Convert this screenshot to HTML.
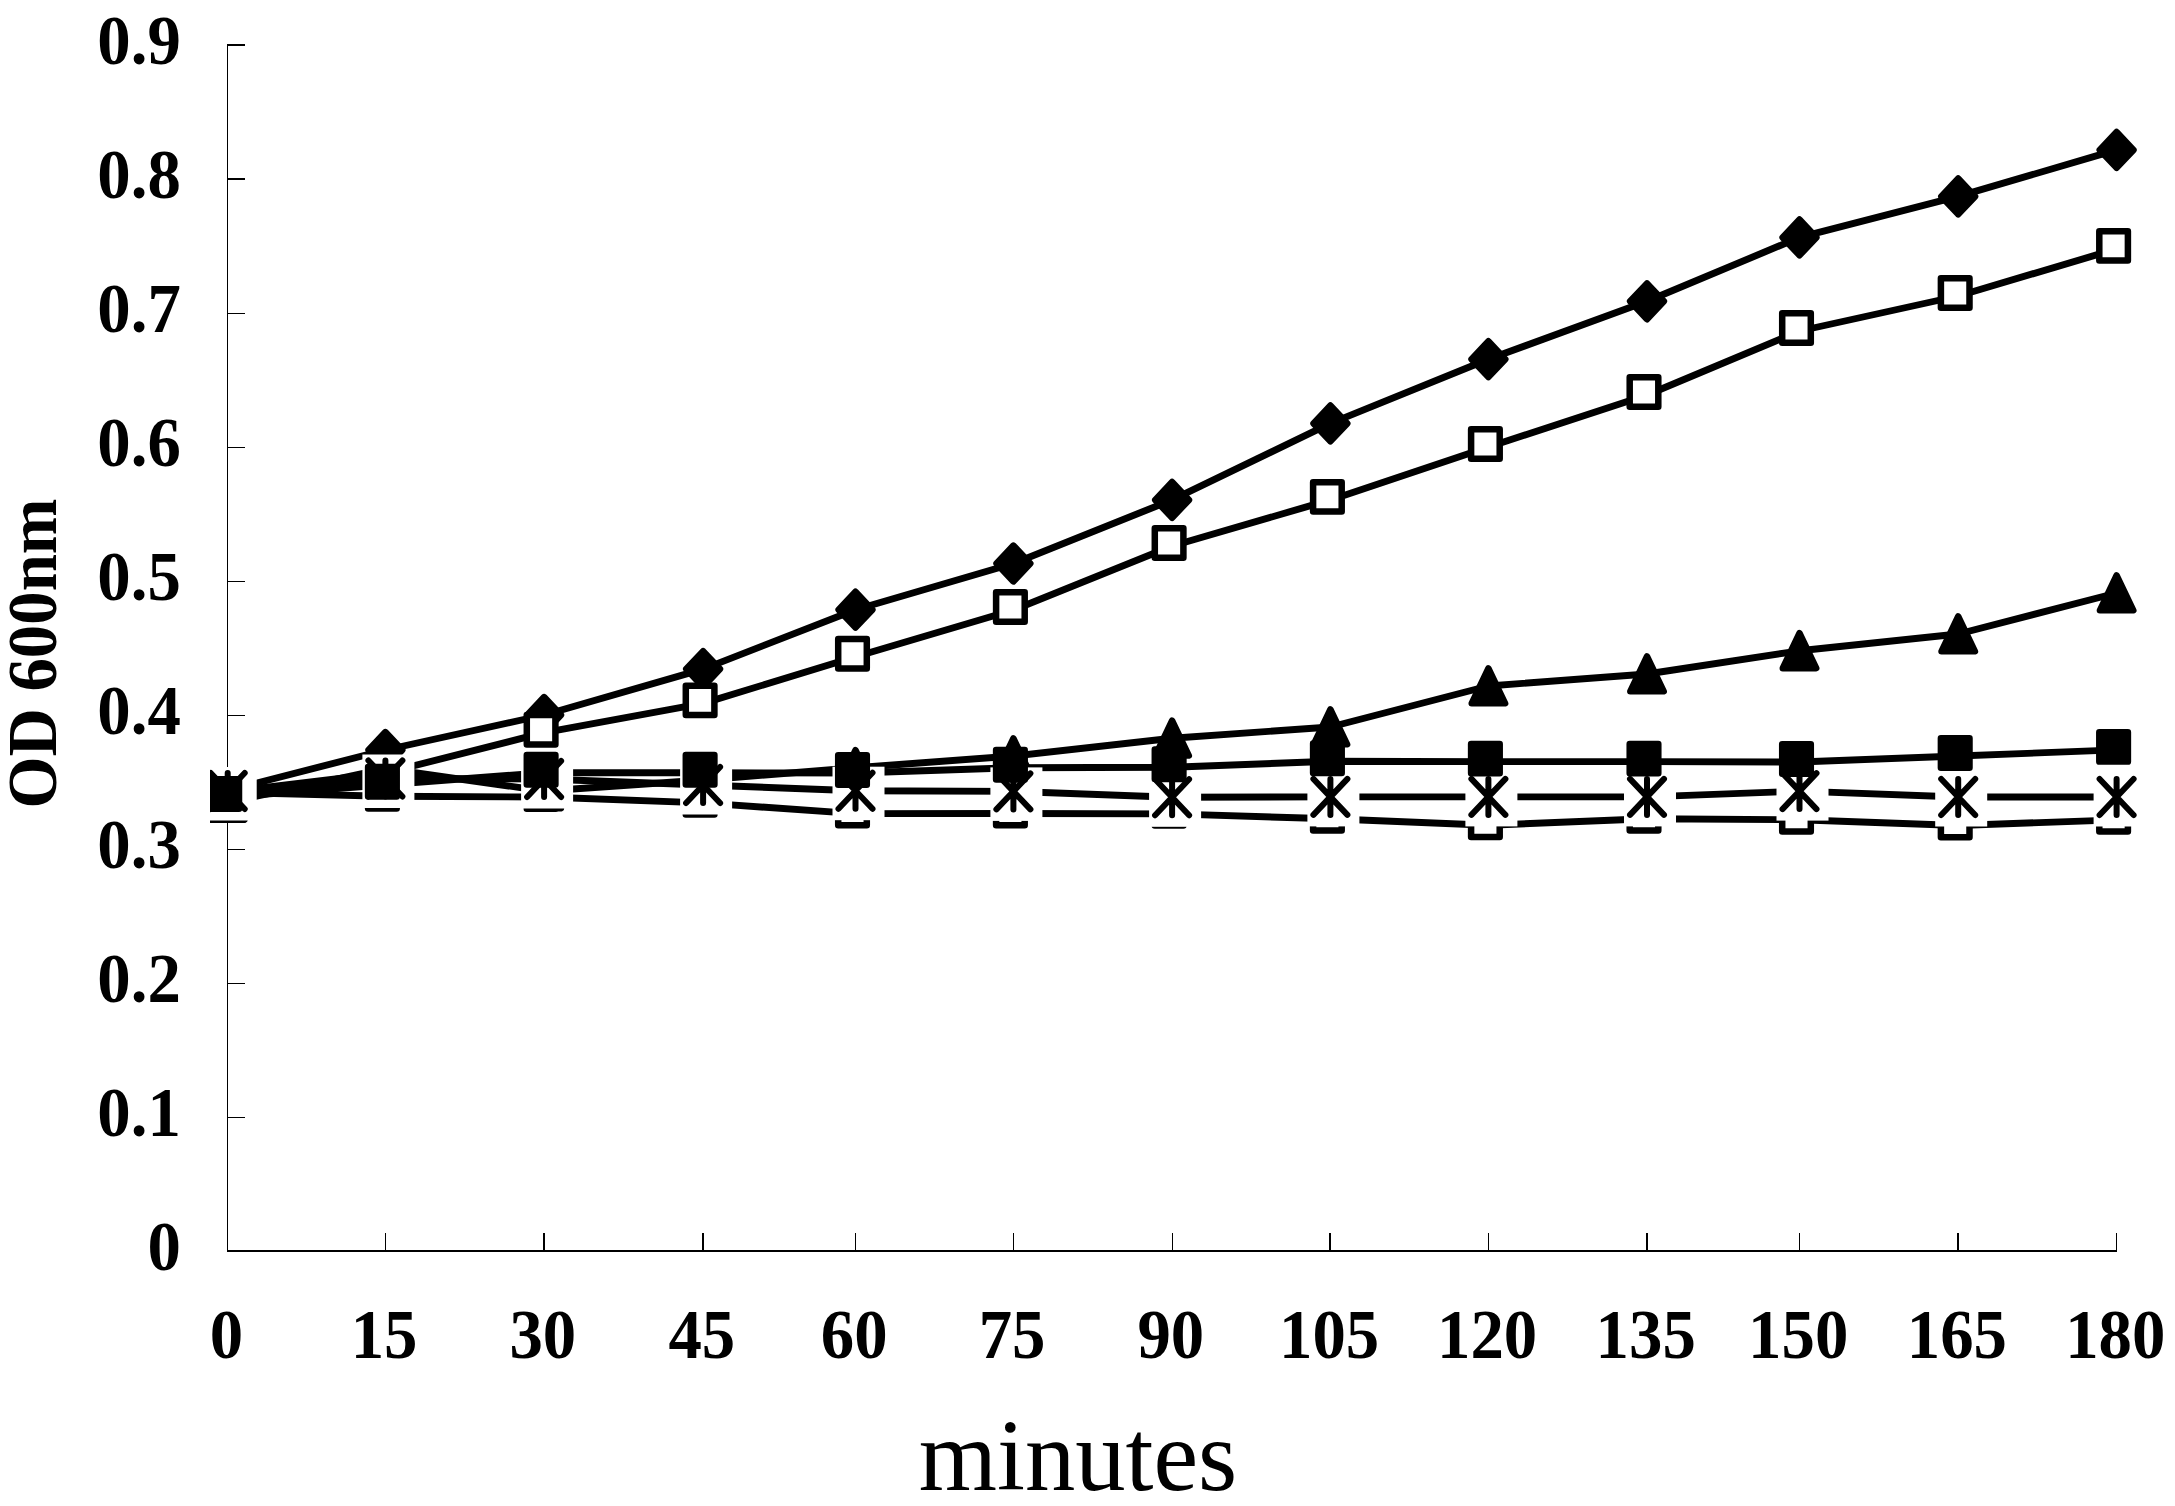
<!DOCTYPE html>
<html lang="en"><head><meta charset="utf-8"><title>OD 600nm growth curves</title>
<style>
html,body{margin:0;padding:0;background:#fff;}
body{width:2175px;height:1506px;overflow:hidden;}
svg{display:block;}
.b{font-family:"Liberation Serif",serif;font-weight:700;font-size:66.8px;fill:#000;}
.m{font-family:"Liberation Serif",serif;font-weight:400;font-size:100.6px;fill:#000;}
.ln{fill:none;stroke:#000;stroke-width:6.9;stroke-linejoin:round;stroke-linecap:butt;}
.mk{stroke:#000;stroke-width:6.5;stroke-linejoin:round;}
.as{fill:none;stroke:#000;stroke-width:6;stroke-linecap:round;}
</style></head><body>
<svg width="2175" height="1506" viewBox="0 0 2175 1506">
<rect x="0" y="0" width="2175" height="1506" fill="#fff"/>
<defs><clipPath id="pc"><rect x="210" y="0" width="1965" height="1506"/></clipPath></defs>
<g shape-rendering="crispEdges" fill="#000">
<rect x="227" y="44" width="1.3" height="1208"/>
<rect x="227" y="1250" width="1890.3" height="2"/>
<rect x="227" y="1116.7" width="18.3" height="1.2"/>
<rect x="227" y="982.7" width="18.3" height="1.2"/>
<rect x="227" y="848.7" width="18.3" height="1.2"/>
<rect x="227" y="714.7" width="18.3" height="1.2"/>
<rect x="227" y="580.7" width="18.3" height="1.2"/>
<rect x="227" y="446.7" width="18.3" height="1.2"/>
<rect x="227" y="312.7" width="18.3" height="1.2"/>
<rect x="227" y="178.3" width="18.3" height="2"/>
<rect x="227" y="44.3" width="18.3" height="2"/>
<rect x="384.8" y="1233" width="1.2" height="18"/>
<rect x="543.1" y="1233" width="2" height="18"/>
<rect x="702.1" y="1233" width="2" height="18"/>
<rect x="854.9" y="1233" width="1.2" height="18"/>
<rect x="1012.8" y="1233" width="1.2" height="18"/>
<rect x="1171.5" y="1233" width="1.2" height="18"/>
<rect x="1329.4" y="1233" width="2" height="18"/>
<rect x="1487.8" y="1233" width="1.2" height="18"/>
<rect x="1646" y="1233" width="2" height="18"/>
<rect x="1798.9" y="1233" width="1.2" height="18"/>
<rect x="1957.2" y="1233" width="2" height="18"/>
<rect x="2116" y="1233" width="1.2" height="18"/>
</g>
<text class="b" text-anchor="end" transform="translate(180.8 1269.5) scale(1 1.03)">0</text>
<text class="b" text-anchor="end" transform="translate(180.8 1135.5) scale(1 1.03)">0.1</text>
<text class="b" text-anchor="end" transform="translate(180.8 1001.5) scale(1 1.03)">0.2</text>
<text class="b" text-anchor="end" transform="translate(180.8 867.5) scale(1 1.03)">0.3</text>
<text class="b" text-anchor="end" transform="translate(180.8 733.5) scale(1 1.03)">0.4</text>
<text class="b" text-anchor="end" transform="translate(180.8 599.5) scale(1 1.03)">0.5</text>
<text class="b" text-anchor="end" transform="translate(180.8 465.5) scale(1 1.03)">0.6</text>
<text class="b" text-anchor="end" transform="translate(180.8 331.5) scale(1 1.03)">0.7</text>
<text class="b" text-anchor="end" transform="translate(180.8 197.5) scale(1 1.03)">0.8</text>
<text class="b" text-anchor="end" transform="translate(180.8 63.5) scale(1 1.03)">0.9</text>
<text class="b" text-anchor="middle" transform="translate(226.4 1357.8) scale(1 1.03)">0</text>
<text class="b" text-anchor="middle" transform="translate(384.1 1357.8) scale(1 1.03)">15</text>
<text class="b" text-anchor="middle" transform="translate(542.8 1357.8) scale(1 1.03)">30</text>
<text class="b" text-anchor="middle" transform="translate(701.8 1357.8) scale(1 1.03)">45</text>
<text class="b" text-anchor="middle" transform="translate(854.2 1357.8) scale(1 1.03)">60</text>
<text class="b" text-anchor="middle" transform="translate(1012.1 1357.8) scale(1 1.03)">75</text>
<text class="b" text-anchor="middle" transform="translate(1170.8 1357.8) scale(1 1.03)">90</text>
<text class="b" text-anchor="middle" transform="translate(1329.1 1357.8) scale(1 1.03)">105</text>
<text class="b" text-anchor="middle" transform="translate(1487.1 1357.8) scale(1 1.03)">120</text>
<text class="b" text-anchor="middle" transform="translate(1645.7 1357.8) scale(1 1.03)">135</text>
<text class="b" text-anchor="middle" transform="translate(1798.2 1357.8) scale(1 1.03)">150</text>
<text class="b" text-anchor="middle" transform="translate(1956.9 1357.8) scale(1 1.03)">165</text>
<text class="b" text-anchor="middle" transform="translate(2115.3 1357.8) scale(1 1.03)">180</text>
<text class="b" text-anchor="middle" transform="translate(55.6 653.5) rotate(-90) scale(1 1.03)">OD 600nm</text>
<text class="m" text-anchor="middle" transform="translate(1078 1490.3) scale(1 1.02)">minutes</text>
<g class="ln">
<polyline points="227.7,790.5 385.4,750 544.1,715 703.1,669.1 855.5,609.7 1013.4,563.5 1172.1,499.9 1330.4,423.4 1488.4,359.2 1647,301.3 1799.5,237.4 1958.2,196.4 2116.6,149.9"/>
<polyline points="227.7,792 385.4,773 544.1,732.7 703.1,703.4 855.5,656.7 1013.4,610 1172.1,546 1330.4,499.9 1488.4,447 1647,395 1799.5,331 1958.2,296 2116.6,248.9"/>
<polyline points="227.7,802.4 385.4,768.5 544.1,791 703.1,780 855.5,767.7 1013.4,756 1172.1,738.2 1330.4,727 1488.4,686 1647,674 1799.5,650.8 1958.2,634 2116.6,593"/>
<polyline points="227.7,797 385.4,784.8 544.1,772.7 703.1,772.8 855.5,773 1013.4,767.8 1172.1,767.2 1330.4,761.3 1488.4,761.6 1647,761.6 1799.5,762 1958.2,756 2116.6,749.9"/>
<polyline points="227.7,791 385.4,778.5 544.1,779 703.1,785 855.5,790.7 1013.4,791.4 1172.1,797.3 1330.4,796.9 1488.4,796.9 1647,796.9 1799.5,791.1 1958.2,797 2116.6,797"/>
<polyline points="227.7,792.5 385.4,796.3 544.1,797 703.1,802.9 855.5,813.6 1013.4,813.5 1172.1,813.9 1330.4,818.8 1488.4,825.2 1647,818.8 1799.5,819.8 1958.2,825.5 2116.6,819.9"/>
</g>
<g clip-path="url(#pc)">
<polygon class="mk" fill="#000" points="227.7,772.6 244.6,790.5 227.7,808.4 210.8,790.5"/>
<polygon class="mk" fill="#000" points="385.4,732.1 402.3,750 385.4,767.9 368.5,750"/>
<polygon class="mk" fill="#000" points="544.1,697.1 561,715 544.1,732.9 527.2,715"/>
<polygon class="mk" fill="#000" points="703.1,651.2 720,669.1 703.1,687 686.2,669.1"/>
<polygon class="mk" fill="#000" points="855.5,591.8 872.4,609.7 855.5,627.6 838.6,609.7"/>
<polygon class="mk" fill="#000" points="1013.4,545.6 1030.3,563.5 1013.4,581.4 996.5,563.5"/>
<polygon class="mk" fill="#000" points="1172.1,482 1189,499.9 1172.1,517.8 1155.2,499.9"/>
<polygon class="mk" fill="#000" points="1330.4,405.5 1347.3,423.4 1330.4,441.3 1313.5,423.4"/>
<polygon class="mk" fill="#000" points="1488.4,341.3 1505.3,359.2 1488.4,377.1 1471.5,359.2"/>
<polygon class="mk" fill="#000" points="1647,283.4 1663.9,301.3 1647,319.2 1630.1,301.3"/>
<polygon class="mk" fill="#000" points="1799.5,219.5 1816.4,237.4 1799.5,255.3 1782.6,237.4"/>
<polygon class="mk" fill="#000" points="1958.2,178.5 1975.1,196.4 1958.2,214.3 1941.3,196.4"/>
<polygon class="mk" fill="#000" points="2116.6,132 2133.5,149.9 2116.6,167.8 2099.7,149.9"/>
<rect class="mk" stroke-width="6.8" fill="#fff" x="210.4" y="774.3" width="28.6" height="29.4"/>
<rect class="mk" stroke-width="6.8" fill="#fff" x="368.1" y="755.3" width="28.6" height="29.4"/>
<rect class="mk" stroke-width="6.8" fill="#fff" x="526.8" y="715" width="28.6" height="29.4"/>
<rect class="mk" stroke-width="6.8" fill="#fff" x="685.8" y="685.7" width="28.6" height="29.4"/>
<rect class="mk" stroke-width="6.8" fill="#fff" x="838.2" y="639" width="28.6" height="29.4"/>
<rect class="mk" stroke-width="6.8" fill="#fff" x="996.1" y="592.3" width="28.6" height="29.4"/>
<rect class="mk" stroke-width="6.8" fill="#fff" x="1154.8" y="528.3" width="28.6" height="29.4"/>
<rect class="mk" stroke-width="6.8" fill="#fff" x="1313.1" y="482.2" width="28.6" height="29.4"/>
<rect class="mk" stroke-width="6.8" fill="#fff" x="1471.1" y="429.3" width="28.6" height="29.4"/>
<rect class="mk" stroke-width="6.8" fill="#fff" x="1629.7" y="377.3" width="28.6" height="29.4"/>
<rect class="mk" stroke-width="6.8" fill="#fff" x="1782.2" y="313.3" width="28.6" height="29.4"/>
<rect class="mk" stroke-width="6.8" fill="#fff" x="1940.9" y="278.3" width="28.6" height="29.4"/>
<rect class="mk" stroke-width="6.8" fill="#fff" x="2099.3" y="231.2" width="28.6" height="29.4"/>
<polygon class="mk" fill="#000" points="227.7,784.8 244.4,819.75 211,819.75"/>
<polygon class="mk" fill="#000" points="385.4,750.9 402.1,785.85 368.7,785.85"/>
<polygon class="mk" fill="#000" points="544.1,773.4 560.8,808.35 527.4,808.35"/>
<polygon class="mk" fill="#000" points="703.1,762.4 719.8,797.35 686.4,797.35"/>
<polygon class="mk" fill="#000" points="855.5,750.1 872.2,785.05 838.8,785.05"/>
<polygon class="mk" fill="#000" points="1013.4,738.4 1030.1,773.35 996.7,773.35"/>
<polygon class="mk" fill="#000" points="1172.1,720.6 1188.8,755.55 1155.4,755.55"/>
<polygon class="mk" fill="#000" points="1330.4,709.4 1347.1,744.35 1313.7,744.35"/>
<polygon class="mk" fill="#000" points="1488.4,668.4 1505.1,703.35 1471.7,703.35"/>
<polygon class="mk" fill="#000" points="1647,656.4 1663.7,691.35 1630.3,691.35"/>
<polygon class="mk" fill="#000" points="1799.5,633.2 1816.2,668.15 1782.8,668.15"/>
<polygon class="mk" fill="#000" points="1958.2,616.4 1974.9,651.35 1941.5,651.35"/>
<polygon class="mk" fill="#000" points="2116.6,575.4 2133.3,610.35 2099.9,610.35"/>
<rect class="mk" stroke-width="6.8" fill="#fff" x="210.4" y="774.8" width="28.6" height="29.4"/>
<rect class="mk" stroke-width="6.8" fill="#fff" x="368.1" y="779.2" width="28.6" height="29.4"/>
<rect class="mk" stroke-width="6.8" fill="#fff" x="526.8" y="779.3" width="28.6" height="29.4"/>
<rect class="mk" stroke-width="6.8" fill="#fff" x="685.8" y="785.2" width="28.6" height="29.4"/>
<rect class="mk" stroke-width="6.8" fill="#fff" x="838.2" y="795.9" width="28.6" height="29.4"/>
<rect class="mk" stroke-width="6.8" fill="#fff" x="996.1" y="795.8" width="28.6" height="29.4"/>
<rect class="mk" stroke-width="6.8" fill="#fff" x="1154.8" y="796.2" width="28.6" height="29.4"/>
<rect class="mk" stroke-width="6.8" fill="#fff" x="1313.1" y="801.1" width="28.6" height="29.4"/>
<rect class="mk" stroke-width="6.8" fill="#fff" x="1471.1" y="807.5" width="28.6" height="29.4"/>
<rect class="mk" stroke-width="6.8" fill="#fff" x="1629.7" y="801.1" width="28.6" height="29.4"/>
<rect class="mk" stroke-width="6.8" fill="#fff" x="1782.2" y="802.1" width="28.6" height="29.4"/>
<rect class="mk" stroke-width="6.8" fill="#fff" x="1940.9" y="807.8" width="28.6" height="29.4"/>
<rect class="mk" stroke-width="6.8" fill="#fff" x="2099.3" y="802.2" width="28.6" height="29.4"/>
<rect fill="#fff" x="204.7" y="767" width="52" height="53.5"/><path class="as" d="M210.7,773L244.7,809M244.7,773L210.7,809M227.7,773L227.7,809"/>
<rect fill="#fff" x="362.4" y="754.5" width="52" height="53.5"/><path class="as" d="M368.4,760.5L402.4,796.5M402.4,760.5L368.4,796.5M385.4,760.5L385.4,796.5"/>
<rect fill="#fff" x="521.1" y="755" width="52" height="53.5"/><path class="as" d="M527.1,761L561.1,797M561.1,761L527.1,797M544.1,761L544.1,797"/>
<rect fill="#fff" x="680.1" y="761" width="52" height="53.5"/><path class="as" d="M686.1,767L720.1,803M720.1,767L686.1,803M703.1,767L703.1,803"/>
<rect fill="#fff" x="832.5" y="766.7" width="52" height="53.5"/><path class="as" d="M838.5,772.7L872.5,808.7M872.5,772.7L838.5,808.7M855.5,772.7L855.5,808.7"/>
<rect fill="#fff" x="990.4" y="767.4" width="52" height="53.5"/><path class="as" d="M996.4,773.4L1030.4,809.4M1030.4,773.4L996.4,809.4M1013.4,773.4L1013.4,809.4"/>
<rect fill="#fff" x="1149.1" y="773.3" width="52" height="53.5"/><path class="as" d="M1155.1,779.3L1189.1,815.3M1189.1,779.3L1155.1,815.3M1172.1,779.3L1172.1,815.3"/>
<rect fill="#fff" x="1307.4" y="772.9" width="52" height="53.5"/><path class="as" d="M1313.4,778.9L1347.4,814.9M1347.4,778.9L1313.4,814.9M1330.4,778.9L1330.4,814.9"/>
<rect fill="#fff" x="1465.4" y="772.9" width="52" height="53.5"/><path class="as" d="M1471.4,778.9L1505.4,814.9M1505.4,778.9L1471.4,814.9M1488.4,778.9L1488.4,814.9"/>
<rect fill="#fff" x="1624" y="772.9" width="52" height="53.5"/><path class="as" d="M1630,778.9L1664,814.9M1664,778.9L1630,814.9M1647,778.9L1647,814.9"/>
<rect fill="#fff" x="1776.5" y="767.1" width="52" height="53.5"/><path class="as" d="M1782.5,773.1L1816.5,809.1M1816.5,773.1L1782.5,809.1M1799.5,773.1L1799.5,809.1"/>
<rect fill="#fff" x="1935.2" y="773" width="52" height="53.5"/><path class="as" d="M1941.2,779L1975.2,815M1975.2,779L1941.2,815M1958.2,779L1958.2,815"/>
<rect fill="#fff" x="2093.6" y="773" width="52" height="53.5"/><path class="as" d="M2099.6,779L2133.6,815M2133.6,779L2099.6,815M2116.6,779L2116.6,815"/>
<rect class="mk" stroke-width="6.8" fill="#000" x="210.4" y="779.3" width="28.6" height="29.4"/>
<rect class="mk" stroke-width="6.8" fill="#000" x="368.1" y="767.1" width="28.6" height="29.4"/>
<rect class="mk" stroke-width="6.8" fill="#000" x="526.8" y="755" width="28.6" height="29.4"/>
<rect class="mk" stroke-width="6.8" fill="#000" x="685.8" y="755.1" width="28.6" height="29.4"/>
<rect class="mk" stroke-width="6.8" fill="#000" x="838.2" y="755.3" width="28.6" height="29.4"/>
<rect class="mk" stroke-width="6.8" fill="#000" x="996.1" y="750.1" width="28.6" height="29.4"/>
<rect class="mk" stroke-width="6.8" fill="#000" x="1154.8" y="749.5" width="28.6" height="29.4"/>
<rect class="mk" stroke-width="6.8" fill="#000" x="1313.1" y="743.6" width="28.6" height="29.4"/>
<rect class="mk" stroke-width="6.8" fill="#000" x="1471.1" y="743.9" width="28.6" height="29.4"/>
<rect class="mk" stroke-width="6.8" fill="#000" x="1629.7" y="743.9" width="28.6" height="29.4"/>
<rect class="mk" stroke-width="6.8" fill="#000" x="1782.2" y="744.3" width="28.6" height="29.4"/>
<rect class="mk" stroke-width="6.8" fill="#000" x="1940.9" y="738.3" width="28.6" height="29.4"/>
<rect class="mk" stroke-width="6.8" fill="#000" x="2099.3" y="732.2" width="28.6" height="29.4"/>
</g>
</svg>
</body></html>
